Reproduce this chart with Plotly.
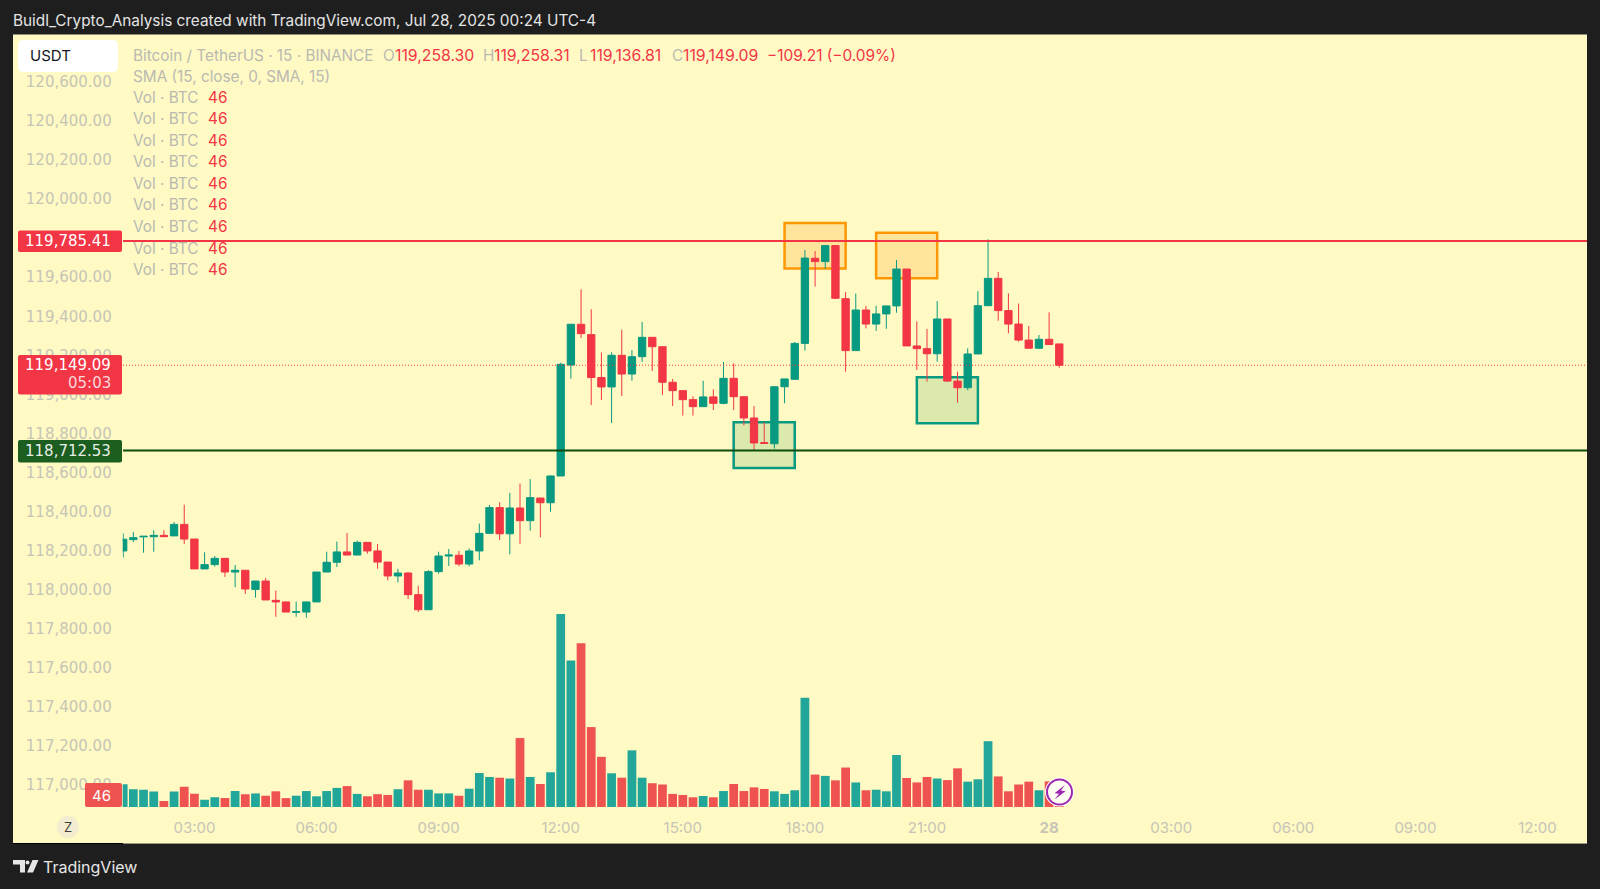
import pandas as pd
import plotly.graph_objects as go

# BTC/USDT 15 min candles
opens = [118198, 118256, 118270, 118271, 118278, 118275, 118334, 118259, 118106, 118128,
         118160, 118090, 118099, 118001, 118044, 117945, 117937, 117884, 117885, 117937,
         118090, 118140, 118193, 118177, 118242, 118198, 118141, 118070, 118085, 117974,
         117897, 118092, 118172, 118176, 118131, 118198, 118288, 118420, 118286, 118418,
         118353, 118469, 118445, 118582, 119150, 119359, 119306, 119086, 119038, 119200,
         119104, 119193, 119292, 119244, 119062, 119019, 118973, 118937, 118987, 118954,
         119082, 118988, 118879, 118753, 118747, 119039, 119077, 119261, 119697, 119680,
         119762, 119490, 119224, 119432, 119360, 119412, 119453, 119642, 119248, 119234,
         119208, 119386, 119068, 119034, 119207, 119454, 119594, 119429, 119360, 119278,
         119236, 119282, 119258.30]
highs = [118288, 118295, 118273, 118304, 118304, 118346, 118435, 118259, 118191, 118172,
         118160, 118126, 118099, 118044, 118060, 117995, 117937, 117938, 117937, 118090,
         118194, 118246, 118290, 118251, 118242, 118234, 118141, 118106, 118089, 118019,
         118100, 118194, 118208, 118198, 118211, 118338, 118433, 118447, 118495, 118543,
         118566, 118469, 118585, 119162, 119359, 119538, 119436, 119215, 119215, 119331,
         119227, 119371, 119292, 119244, 119079, 119019, 118990, 119070, 119026, 119166,
         119159, 118988, 118940, 118858, 119039, 119079, 119268, 119739, 119734, 119762,
         119762, 119524, 119516, 119453, 119453, 119453, 119688, 119642, 119374, 119335,
         119478, 119386, 119116, 119236, 119528, 119794, 119627, 119517, 119465, 119350,
         119304, 119420, 119258.31]
lows = [118165, 118244, 118189, 118194, 118271, 118275, 118234, 118106, 118106, 118118,
        118065, 118013, 117978, 117959, 117947, 117861, 117885, 117861, 117856, 117937,
        118090, 118116, 118177, 118177, 118184, 118107, 118048, 118037, 117952, 117885,
        117897, 118082, 118121, 118120, 118120, 118150, 118288, 118254, 118181, 118234,
        118302, 118268, 118399, 118582, 119080, 119289, 118945, 118971, 118853, 118992,
        119070, 119166, 119120, 118997, 118940, 118891, 118891, 118937, 118920, 118949,
        118920, 118841, 118710, 118749, 118722, 118954, 119074, 119224, 119552, 119644,
        119488, 119116, 119224, 119338, 119325, 119336, 119418, 119248, 119125, 119065,
        119167, 119065, 118957, 119021, 119207, 119454, 119377, 119313, 119270, 119236,
        119232, 119255, 119136.81]
closes = [118258, 118266, 118273, 118278, 118271, 118334, 118259, 118106, 118128, 118160,
          118090, 118099, 118003, 118044, 117947, 117937, 117885, 117887, 117937, 118090,
          118140, 118193, 118177, 118242, 118198, 118141, 118070, 118085, 117974, 117897,
          118092, 118172, 118177, 118131, 118198, 118288, 118420, 118286, 118418, 118353,
          118471, 118445, 118582, 119154, 119359, 119311, 119086, 119038, 119200, 119104,
          119193, 119292, 119244, 119062, 119019, 118973, 118937, 118987, 118954, 119082,
          118988, 118879, 118751, 118749, 119039, 119079, 119261, 119698, 119680, 119762,
          119492, 119224, 119432, 119360, 119412, 119453, 119642, 119248, 119234, 119208,
          119386, 119068, 119034, 119207, 119454, 119594, 119429, 119360, 119278, 119236,
          119282, 119255, 119149.09]
volumes = [87, 68, 66, 59, 23, 59, 77, 51, 28, 37, 34, 61, 49, 52, 43, 60, 34, 43, 61, 41,
           61, 73, 80, 50, 41, 49, 46, 68, 102, 66, 66, 52, 52, 43, 70, 130, 115, 112, 109, 264,
           115, 88, 133, 739, 561, 627, 306, 192, 129, 112, 217, 112, 91, 86, 50, 46, 37, 42, 37, 61,
           88, 61, 75, 69, 60, 50, 64, 418, 124, 119, 102, 151, 94, 64, 66, 60, 199, 111, 94, 115,
           109, 103, 148, 97, 106, 252, 117, 60, 86, 97, 64, 98, 46]
times = pd.date_range("2025-07-27 01:15", periods=len(opens), freq="15min")

resistance = 119785.41
support = 118712.53
last_price = closes[-1]

price_ticks = list(range(117000, 120601, 200))
time_ticks = ["2025-07-27 03:00", "2025-07-27 06:00", "2025-07-27 09:00", "2025-07-27 12:00",
              "2025-07-27 15:00", "2025-07-27 18:00", "2025-07-27 21:00", "2025-07-28 00:00",
              "2025-07-28 03:00", "2025-07-28 06:00", "2025-07-28 09:00", "2025-07-28 12:00"]
time_labels = ["03:00", "06:00", "09:00", "12:00", "15:00", "18:00", "21:00", "<b>28</b>",
               "03:00", "06:00", "09:00", "12:00"]

# zones: start, end, top, bottom
orange_zones = [("2025-07-27 17:30", "2025-07-27 19:00", 119878, 119644),
                ("2025-07-27 19:45", "2025-07-27 21:15", 119828, 119594)]
green_zones = [("2025-07-27 16:15", "2025-07-27 17:45", 118857, 118623),
               ("2025-07-27 20:45", "2025-07-27 22:15", 119087, 118852)]

W, H = 1600, 889
FONT = "Inter"
WIDE = "DejaVu Sans"
UP = "#089981"
DOWN = "#F23645"
PANEL = "#FFF9C4"
DARK = "#1E1E1E"
GREY = "#B9B9B2"
TICK = "#C6C5B6"


def px(x):
    return x / W


def py(y):
    return 1 - y / H


def pill(x0, y0, x1, y1, r, color):
    l, t, rr, b = px(x0), py(y0), px(x1), py(y1)
    rx, ry = r / W, r / H
    path = (f"M {l+rx} {t} L {rr-rx} {t} Q {rr} {t} {rr} {t-ry} L {rr} {b+ry} Q {rr} {b} {rr-rx} {b} "
            f"L {l+rx} {b} Q {l} {b} {l} {b+ry} L {l} {t-ry} Q {l} {t} {l+rx} {t} Z")
    return dict(type="path", xref="paper", yref="paper", path=path, fillcolor=color,
                line=dict(width=0), layer="above")


def poly(points, color):
    path = "M " + " L ".join(f"{px(x)} {py(y)}" for x, y in points) + " Z"
    return dict(type="path", xref="paper", yref="paper", path=path, fillcolor=color,
                line=dict(width=0), layer="above")


def label(x, y, text, color=GREY, size=15.3, anchor="left", family=FONT):
    return dict(xref="paper", yref="paper", x=px(x), y=py(y), text=text, showarrow=False,
                xanchor=anchor, yanchor="middle", font=dict(family=family, size=size, color=color),
                borderpad=0, borderwidth=0)


fig = go.Figure()
vol_colors = ["#22A699" if c >= o else "#EF5350" for o, c in zip(opens, closes)]
fig.add_trace(go.Bar(x=times, y=volumes, marker=dict(color=vol_colors, line=dict(width=0)),
                     yaxis="y2", showlegend=False))
fig.add_trace(go.Candlestick(x=times, open=opens, high=highs, low=lows, close=closes,
                             increasing=dict(line=dict(color=UP, width=1), fillcolor=UP),
                             decreasing=dict(line=dict(color=DOWN, width=1), fillcolor=DOWN),
                             whiskerwidth=0, showlegend=False))

shapes = []
# chart panel behind everything
shapes.append(dict(type="rect", xref="paper", yref="paper", x0=px(13), x1=px(1587), y0=py(843.5), y1=py(34.5),
                   fillcolor=PANEL, line=dict(width=0), layer="below"))
for x0, x1, top, bottom in orange_zones:
    shapes.append(dict(type="rect", x0=x0, x1=x1, y0=bottom, y1=top, xref="x", yref="y", layer="below",
                       fillcolor="rgba(255,152,0,0.2)", line=dict(color="#FF9800", width=2.5)))
for x0, x1, top, bottom in green_zones:
    shapes.append(dict(type="rect", x0=x0, x1=x1, y0=bottom, y1=top, xref="x", yref="y", layer="below",
                       fillcolor="rgba(76,175,80,0.2)", line=dict(color=UP, width=2.5)))
shapes.append(dict(type="line", xref="paper", yref="y", x0=px(123), x1=px(1587), y0=resistance, y1=resistance,
                   line=dict(color=DOWN, width=2), layer="above"))
shapes.append(dict(type="line", xref="paper", yref="y", x0=px(123), x1=px(1587), y0=support, y1=support,
                   line=dict(color="#0B4D0B", width=2), layer="above"))
shapes.append(dict(type="line", xref="paper", yref="y", x0=px(123), x1=px(1587), y0=last_price, y1=last_price,
                   line=dict(color=DOWN, width=1, dash="1px,2px"), layer="above"))

# left axis pills and buttons
shapes.append(pill(18, 40, 118, 72, 5, "#FFFFFF"))
shapes.append(pill(18, 230.5, 122, 252, 2, DOWN))
shapes.append(pill(18, 355, 122, 394.5, 2, DOWN))
shapes.append(pill(18, 440, 122, 462.5, 2, "#1B5E20"))
shapes.append(pill(85, 783, 122, 807, 2, "#EF5350"))
shapes.append(dict(type="circle", xref="paper", yref="paper", x0=px(57), x1=px(79), y0=py(838), y1=py(816),
                   fillcolor="#F2EDD0", line=dict(width=0), layer="above"))

# lightning badge
shapes.append(dict(type="circle", xref="paper", yref="paper", x0=px(1045), x1=px(1074), y0=py(806.5), y1=py(777.5),
                   fillcolor="#FFFFFF", line=dict(width=0), layer="above"))
shapes.append(dict(type="circle", xref="paper", yref="paper", x0=px(1047), x1=px(1072), y0=py(804.5), y1=py(779.5),
                   fillcolor="#FFFDF2", line=dict(color="#9C27B0", width=2), layer="above"))
shapes.append(poly([(1065, 785), (1054.5, 793.2), (1059, 793.8), (1054.5, 799.5), (1065.5, 791.2), (1061, 790.6)],
                   "#9C27B0"))

# bottom edge of the panel
shapes.append(dict(type="line", xref="paper", yref="paper", x0=px(13), x1=px(123), y0=py(843.5), y1=py(843.5),
                   line=dict(color="#000000", width=1), layer="above"))
shapes.append(dict(type="line", xref="paper", yref="paper", x0=px(123), x1=px(1587), y0=py(843.5), y1=py(843.5),
                   line=dict(color="#9A9680", width=1), layer="above"))

# TradingView logo
shapes.append(poly([(13, 860), (25, 860), (25, 872.5), (20, 872.5), (20, 864.5), (13, 864.5)], "#E6E6E6"))
shapes.append(dict(type="circle", xref="paper", yref="paper", x0=px(25.5), x1=px(29.5), y0=py(864.5), y1=py(860.5),
                   fillcolor="#E6E6E6", line=dict(width=0), layer="above"))
shapes.append(poly([(32.5, 860), (38.5, 860), (33, 872.5), (27, 872.5)], "#E6E6E6"))

annotations = [
    label(13, 20.5, "Buidl_Crypto_Analysis created with TradingView.com, Jul 28, 2025 00:24 UTC-4", "#E4E4E4", 15.35),
    label(30, 55.5, "USDT", "#131722", 15),
    label(133, 55, "Bitcoin / TetherUS · 15 · BINANCE"),
    label(382.6, 55, "O"),
    label(395, 55, f"{opens[-1]:,.2f}", DOWN, 15.8),
    label(482.6, 55, "H"),
    label(494, 55, f"{highs[-1]:,.2f}", DOWN, 15.8),
    label(578.6, 55, "L"),
    label(590, 55, f"{lows[-1]:,.2f}", DOWN, 15.8),
    label(671.5, 55, "C"),
    label(682.6, 55, f"{closes[-1]:,.2f}", DOWN, 15.8),
    label(767.4, 55, "−109.21 (−0.09%)", DOWN, 15.4),
    label(133, 76.5, "SMA (15, close, 0, SMA, 15)"),
    label(111, 241, f"{resistance:,.2f}", "#FFFFFF", 15, "right", WIDE),
    label(111, 365, f"{last_price:,.2f}", "#FFFFFF", 15, "right", WIDE),
    label(111, 383, "05:03", "#FBD5D9", 15, "right", WIDE),
    label(111, 450.5, f"{support:,.2f}", "#E8EFE8", 15, "right", WIDE),
    label(110.5, 795, "46", "#FFFFFF", 15, "right"),
    label(68, 827, "Z", "#3F3F3A", 13, "center"),
    label(43, 867, "TradingView", "#E6E6E6", 16),
]
for row_y in [97.5, 119, 140.5, 162, 183.5, 205, 226.5, 248, 269.5]:
    annotations.append(label(133, row_y, "Vol · BTC"))
    annotations.append(label(207.5, row_y, "46", DOWN))

fig.update_layout(
    width=W, height=H, autosize=False,
    margin=dict(l=0, r=0, t=0, b=0),
    paper_bgcolor=DARK, plot_bgcolor="rgba(0,0,0,0)",
    font=dict(family=FONT),
    boxgap=0.28, boxgroupgap=0, bargap=0.14,
    showlegend=False, hovermode=False,
    shapes=shapes, annotations=annotations,
    xaxis=dict(domain=[px(122.7), px(1587)], type="date",
               range=["2025-07-27 01:14:17", "2025-07-28 13:12:58"],
               rangeslider=dict(visible=False), showgrid=False, zeroline=False, showline=False,
               tickmode="array", tickvals=time_ticks, ticktext=time_labels,
               ticks="outside", ticklen=6, tickcolor="rgba(0,0,0,0)",
               tickfont=dict(family=FONT, size=15, color=TICK)),
    yaxis=dict(domain=[py(808), py(34.5)], range=[116881.5, 120843], showgrid=False, zeroline=False,
               showline=False, tickmode="array", tickvals=price_ticks, tickformat=",.2f",
               ticks="outside", ticklen=7, tickcolor="rgba(0,0,0,0)",
               tickfont=dict(family=WIDE, size=15, color=TICK)),
    yaxis2=dict(overlaying="y", side="right", range=[-4, 2960], visible=False),
)

fig.write_html("out.html", config={"displayModeBar": False},
               post_script="document.body.style.margin='0';document.body.style.background='#1E1E1E';")
